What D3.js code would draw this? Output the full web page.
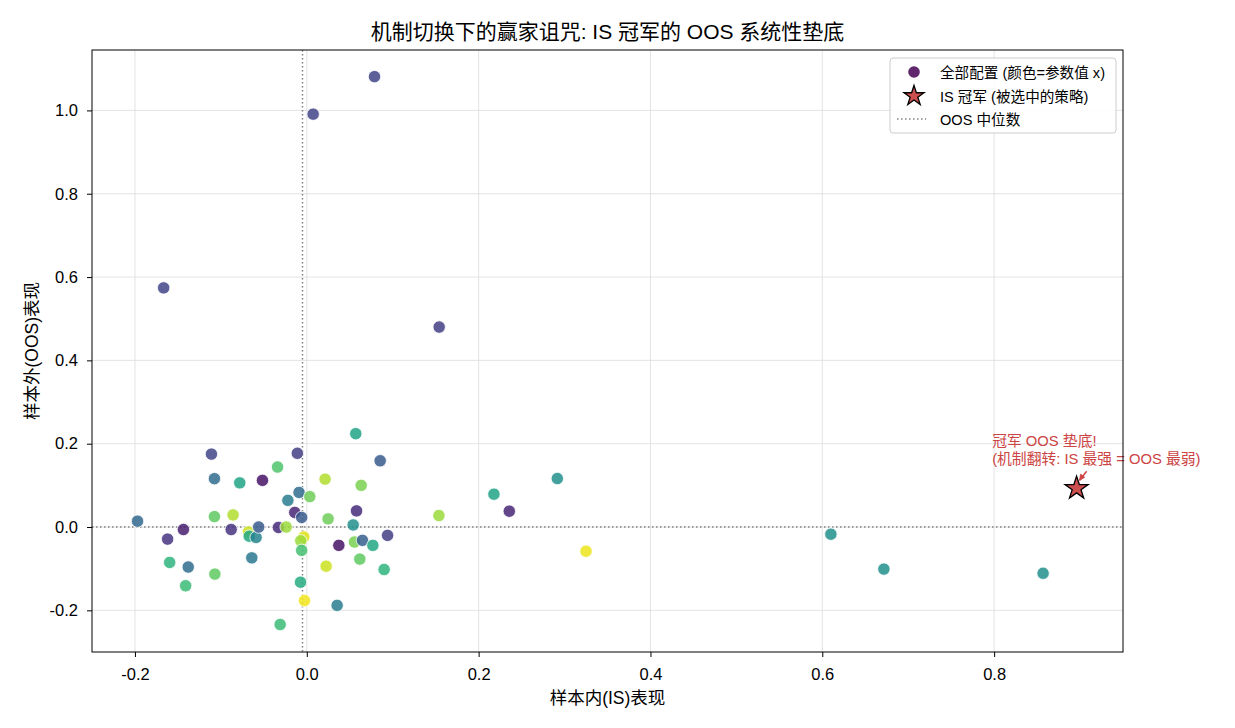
<!DOCTYPE html>
<html><head><meta charset="utf-8">
<script src="https://cdn.jsdelivr.net/npm/d3@7"></script>
<style>
body{margin:0;background:#fff;}
svg text{font-family:"Liberation Sans","Noto Sans CJK SC",Arial,sans-serif;}
</style></head>
<body><svg id="c" width="1235" height="728"></svg>
<script>
// ---- data ----
const isPerf = [-0.111,-0.1075,-0.078,-0.0516,-0.034,-0.022,-0.014,-0.197,-0.162,-0.1436,
 -0.1075,-0.0858,-0.088,-0.068,-0.067,-0.059,-0.056,-0.033,-0.024,-0.1596,
 -0.138,-0.141,-0.107,-0.064,-0.031,0.057,-0.011,0.0854,0.0213,0.0633,
 -0.009,0.0035,-0.006,0.0248,0.0579,0.054,0.1538,0.094,0.0373,0.0555,
 0.0648,0.0769,-0.0035,-0.007,-0.006,0.0617,0.090,0.0225,-0.0073,-0.0027,
 0.0353,0.0788,0.0074,-0.1666,0.1541,0.2178,0.2357,0.2916,0.325,0.610,
 0.6717,0.857];
const oosPerf = [0.175,0.116,0.106,0.112,0.144,0.064,0.035,0.014,-0.029,-0.006,
 0.025,0.029,-0.006,-0.012,-0.022,-0.025,0.0,-0.001,0.0,-0.085,
 -0.096,-0.141,-0.113,-0.074,-0.234,0.224,0.177,0.159,0.115,0.100,
 0.083,0.073,0.023,0.0195,0.0387,0.005,0.0276,-0.020,-0.044,-0.036,
 -0.032,-0.044,-0.024,-0.033,-0.056,-0.077,-0.102,-0.094,-0.1325,-0.1765,
 -0.188,1.081,0.991,0.574,0.480,0.0788,0.038,0.1164,-0.058,-0.0173,
 -0.101,-0.111];
const paramX = [0.2,0.35,0.58,0.05,0.72,0.42,0.1,0.33,0.15,0.08,
 0.75,0.88,0.15,0.92,0.6,0.45,0.28,0.12,0.85,0.65,
 0.35,0.68,0.75,0.4,0.68,0.58,0.18,0.28,0.88,0.8,
 0.35,0.78,0.28,0.78,0.12,0.5,0.85,0.18,0.05,0.8,
 0.3,0.6,0.95,0.85,0.7,0.75,0.65,0.92,0.62,0.98,
 0.42,0.2,0.2,0.2,0.18,0.58,0.1,0.5,0.97,0.5,
 0.5,0.5];
const champion = [0.896, 0.093];
const oosMedian = [0.0];
const isMedian = [-0.005];
const xTicks = [-0.2,0.0,0.2,0.4,0.6,0.8];
const yTicks = [-0.2,0.0,0.2,0.4,0.6,0.8,1.0];
const titleText = "机制切换下的赢家诅咒: IS 冠军的 OOS 系统性垫底";
const xLabel = "样本内(IS)表现";
const yLabel = "样本外(OOS)表现";
const legendLabels = ["全部配置 (颜色=参数值 x)","IS 冠军 (被选中的策略)","OOS 中位数"];
const annotLines = ["冠军 OOS 垫底!","(机制翻转: IS 最强 = OOS 最弱)"];

// ---- layout ----
const L=92,R=1123,T=50,B=652;
const svg=d3.select("#c");
const x=d3.scaleLinear().domain([-0.25,0.95]).range([L,R]);
const y=d3.scaleLinear().domain([-0.30,1.145]).range([B,T]);
const fmt=d=>d.toFixed(1);

// grid
svg.append("g").selectAll("line").data(xTicks).join("line")
 .attr("x1",d=>x(d)).attr("x2",d=>x(d)).attr("y1",T).attr("y2",B)
 .attr("stroke","#dcdcdc").attr("stroke-width",0.8);
svg.append("g").selectAll("line").data(yTicks).join("line")
 .attr("y1",d=>y(d)).attr("y2",d=>y(d)).attr("x1",L).attr("x2",R)
 .attr("stroke","#dcdcdc").attr("stroke-width",0.8);

// median lines
svg.append("g").selectAll("line").data(oosMedian).join("line")
 .attr("x1",L).attr("x2",R).attr("y1",d=>y(d)).attr("y2",d=>y(d))
 .attr("stroke","#808080").attr("stroke-width",1.5).attr("stroke-dasharray","1.5,2.5");
svg.append("g").selectAll("line").data(isMedian).join("line")
 .attr("y1",T).attr("y2",B).attr("x1",d=>x(d)).attr("x2",d=>x(d))
 .attr("stroke","#808080").attr("stroke-width",1.5).attr("stroke-dasharray","1.5,2.5");

// points
const pts=isPerf.map((v,i)=>({x:v,y:oosPerf[i],t:paramX[i]}));
svg.append("g").selectAll("circle").data(pts).join("circle")
 .attr("cx",d=>x(d.x)).attr("cy",d=>y(d.y)).attr("r",6.2)
 .attr("fill",d=>d3.interpolateViridis(d.t)).attr("fill-opacity",0.85)
 .attr("stroke","#fff").attr("stroke-width",0.8);

// champion star
const star=d3.symbol().type(d3.symbolStar).size(165);
svg.append("path").attr("d",star())
 .attr("transform",`translate(${x(champion[0])},${y(champion[1])})`)
 .attr("fill","#cd4f4f").attr("stroke","#000").attr("stroke-width",1.3);

// annotation
const annColor="#cc4444";
const ag=svg.append("g");
ag.selectAll("text").data(annotLines).join("text")
 .attr("x",x(0.80)-2).attr("y",(d,i)=>446+i*18)
 .attr("fill",annColor).attr("font-size",14.8).text(d=>d);
const ax2=x(champion[0])+3, ay2=y(champion[1])-8;
const ax1=ax2+7, ay1=ay2-9;
ag.append("line").attr("x1",ax1).attr("y1",ay1).attr("x2",ax2).attr("y2",ay2)
 .attr("stroke",annColor).attr("stroke-width",1.5);
ag.append("path").attr("d",`M${ax2},${ay2} l1,-6 l4,3 z`)
 .attr("fill",annColor).attr("stroke",annColor);

// frame
svg.append("rect").attr("x",L).attr("y",T).attr("width",R-L).attr("height",B-T)
 .attr("fill","none").attr("stroke","#000").attr("stroke-width",1);

// axes
const xa=svg.append("g").attr("transform",`translate(0,${B})`)
 .call(d3.axisBottom(x).tickValues(xTicks).tickFormat(fmt).tickSize(5).tickPadding(11));
const ya=svg.append("g").attr("transform",`translate(${L},0)`)
 .call(d3.axisLeft(y).tickValues(yTicks).tickFormat(fmt).tickSize(5).tickPadding(9));
[xa,ya].forEach(g=>{g.select(".domain").remove();
 g.selectAll("text").attr("font-size",16.5).attr("fill","#000")
  .style("font-family",'"Liberation Sans","Noto Sans CJK SC",sans-serif');
 g.selectAll("line").attr("stroke","#000");});

// title + labels
svg.append("text").attr("x",(L+R)/2).attr("y",T-11).attr("text-anchor","middle")
 .attr("font-size",21).text(titleText);
svg.append("text").attr("x",(L+R)/2).attr("y",704).attr("text-anchor","middle")
 .attr("font-size",17.5).text(xLabel);
svg.append("text").attr("transform",`translate(38,${(T+B)/2}) rotate(-90)`)
 .attr("text-anchor","middle").attr("font-size",17.5).text(yLabel);

// legend
const lg=svg.append("g");
lg.append("rect").attr("x",890).attr("y",58).attr("width",226).attr("height",75)
 .attr("rx",3).attr("fill","#fff").attr("fill-opacity",0.85).attr("stroke","#cccccc");
lg.append("circle").attr("cx",914).attr("cy",72).attr("r",5.8)
 .attr("fill",d3.interpolateViridis(0.0)).attr("fill-opacity",0.85);
lg.append("path").attr("d",d3.symbol().type(d3.symbolStar).size(125)())
 .attr("transform","translate(914,96)").attr("fill","#cd4f4f").attr("stroke","#000").attr("stroke-width",1.3);
lg.append("line").attr("x1",897).attr("x2",926).attr("y1",119).attr("y2",119)
 .attr("stroke","#808080").attr("stroke-width",1.5).attr("stroke-dasharray","1.5,2.5");
lg.selectAll("text.l").data(legendLabels).join("text").attr("class","l")
 .attr("x",940).attr("y",(d,i)=>78+i*23.5).attr("font-size",14.6).text(d=>d);
</script></body></html>
